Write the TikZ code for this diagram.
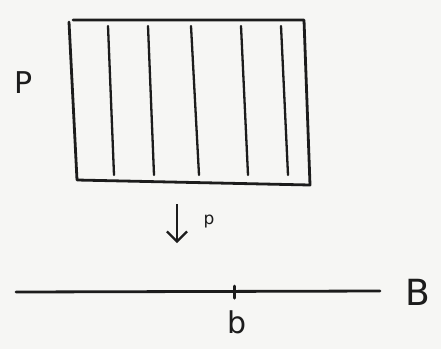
\documentclass[tikz,border=0pt]{standalone}
\usepackage{fontspec}
\setmainfont{DejaVu Sans}
\usepackage{tikz}
\usetikzlibrary{arrows.meta,positioning}
\definecolor{sketchpaper}{RGB}{246,246,244}
\definecolor{sketchink}{RGB}{28,28,28}

\begin{document}
\begin{tikzpicture}[
  x=1pt, y=-1pt,
  ink/.style={draw=sketchink, line width=2.8pt, line cap=round, line join=round},
  fiber/.style={draw=sketchink, line width=2.3pt, line cap=round},
  arrow/.style={->, draw=sketchink, line width=2.2pt, >={Straight Barb[length=10pt,width=20pt]}},
  lbl/.style={text=sketchink, inner sep=0pt, font=\fontsize{#1}{#1}\selectfont},
  lbl/.default=28
]

% --- Paper ---
\fill[sketchpaper] (0,0) rectangle (441,349);
\useasboundingbox (0,0) rectangle (441,349);

% --- Total space ---
\draw[ink] (73,20) -- (304,20) -- (310,185) -- (77,180) -- (69,22);
\foreach \xa/\xb in {108/114, 148/154, 191/199, 241/248, 281/288}
  \draw[fiber] (\xa,26) -- (\xb,175);
\node[lbl=30] (total) at (24,83) {P};

% --- Projection ---
\coordinate (ptop) at (177,204);
\coordinate (pbot) at (177,243);
\draw[arrow] (ptop) -- (pbot);
\node[lbl=17] (proj) at (209,221) {p};

% --- Base ---
\coordinate (bleft) at (16,292);
\coordinate (bright) at (380,291);
\draw[ink] (bleft) -- (bright);
\coordinate (pt) at (234,292);
\draw[ink, line width=3pt] ([yshift=-6pt]pt) -- ([yshift=6pt]pt);
\node[lbl=30] (bpt) at (237,322) {b};
\node[lbl=36] (base) at (418,292) {B};

\end{tikzpicture}
\end{document}
